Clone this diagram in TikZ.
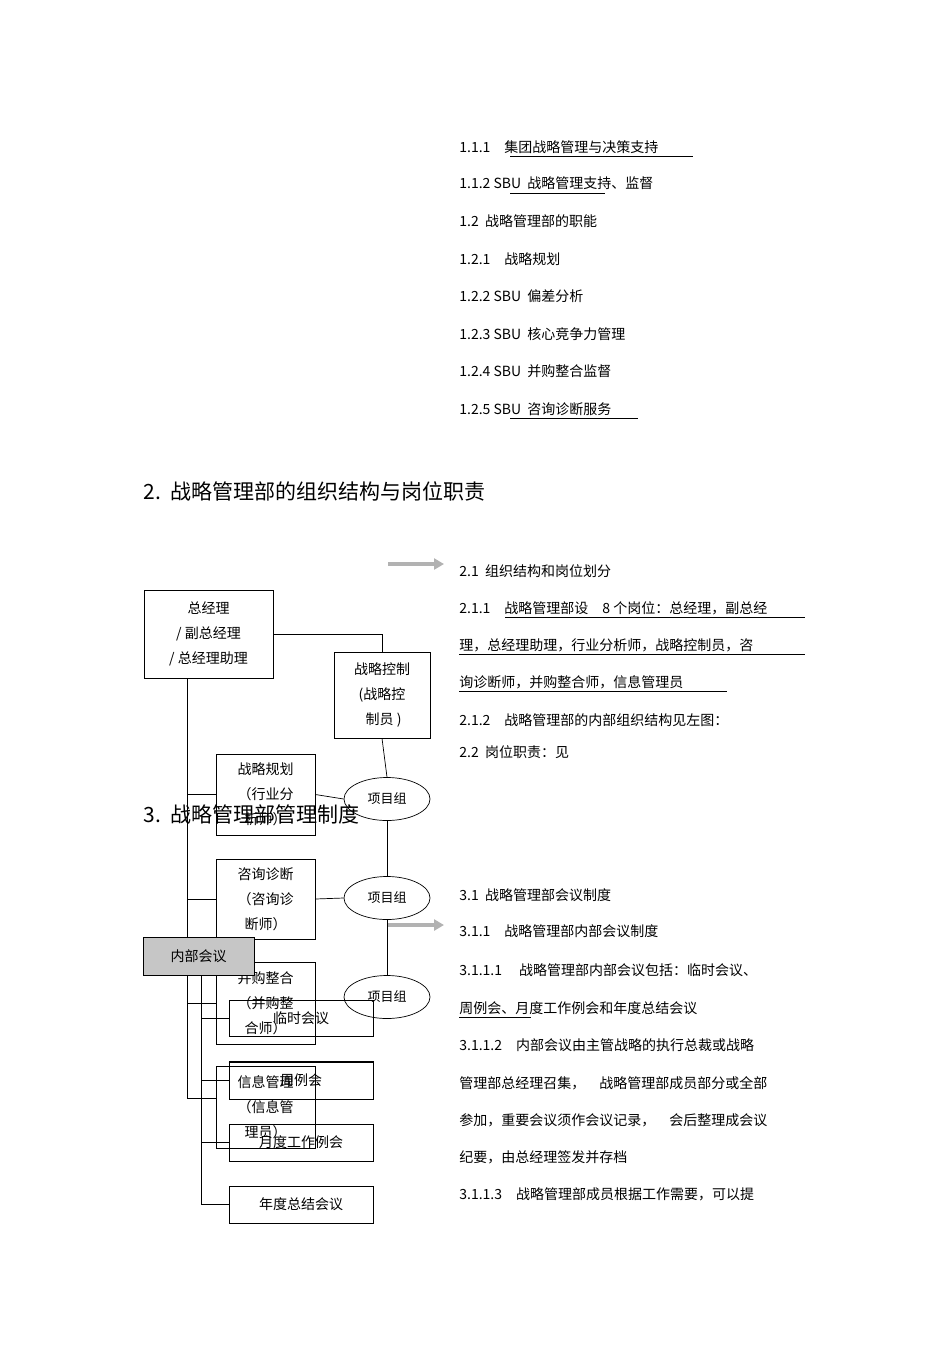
\documentclass[tikz,border=0pt]{standalone}
\usepackage{fontspec}
\setmainfont{Noto Sans CJK SC}
\usetikzlibrary{positioning, shapes, arrows.meta, calc}

\tikzset{
    txt/.style={anchor=west, inner sep=0, font=\fontsize{14}{14}\selectfont},
    head/.style={anchor=west, inner sep=0, font=\fontsize{21}{21}\selectfont},
    box/.style={draw, align=center, inner sep=0, font=\fontsize{14}{25}\selectfont},
    grp/.style={draw, ellipse, minimum width=86pt, minimum height=43pt,
        inner sep=0, font=\fontsize{13}{13}\selectfont},
    greyarrow/.style={draw=gray!60, line width=3.5pt, -{Triangle[length=10pt,width=11pt]}}
}

\begin{document}
\begin{tikzpicture}[x=1pt, y=-1pt, line width=0.7pt]
\useasboundingbox (0,0) rectangle (950,1346);

% right column text
\node[txt] (l1) at (459,147) {1.1.1\quad 集团战略管理与决策支持};
\node[txt] (l2) at (459,183) {1.1.2 SBU\ \ 战略管理支持、监督};
\node[txt] (l3) at (459,221) {1.2\ \ 战略管理部的职能};
\node[txt] (l4) at (459,259) {1.2.1\quad 战略规划};
\node[txt] (l5) at (459,296) {1.2.2 SBU\ \ 偏差分析};
\node[txt] (l6) at (459,334) {1.2.3 SBU\ \ 核心竞争力管理};
\node[txt] (l7) at (459,371) {1.2.4 SBU\ \ 并购整合监督};
\node[txt] (l8) at (459,409) {1.2.5 SBU\ \ 咨询诊断服务};
\draw (510,156) -- (693,156);
\draw (510,193) -- (605,193);
\draw (510,418) -- (638,418);

\node[head] (h2) at (143,491) {2.\ \ 战略管理部的组织结构与岗位职责};

\node[txt] (r1) at (459,571) {2.1\ \ 组织结构和岗位划分};
\node[txt] (r2) at (459,608) {2.1.1\quad 战略管理部设\quad 8 个岗位：总经理，副总经};
\node[txt] (r3) at (459,645) {理，总经理助理，行业分析师，战略控制员，咨};
\node[txt] (r4) at (459,682) {询诊断师，并购整合师，信息管理员};
\node[txt] (r5) at (459,720) {2.1.2\quad 战略管理部的内部组织结构见左图：};
\node[txt] (r6) at (459,752) {2.2\ \ 岗位职责：见};
\draw (505,617) -- (805,617);
\draw (459,654) -- (805,654);
\draw (459,691) -- (727,691);

\node[txt] (s1) at (459,895) {3.1\ \ 战略管理部会议制度};
\node[txt] (s2) at (459,931) {3.1.1\quad 战略管理部内部会议制度};
\node[txt] (s3) at (459,970) {3.1.1.1\quad\ 战略管理部内部会议包括：临时会议、};
\node[txt] (s4) at (459,1008) {周例会、月度工作例会和年度总结会议};
\node[txt] (s5) at (459,1045) {3.1.1.2\quad 内部会议由主管战略的执行总裁或战略};
\node[txt] (s6) at (459,1083) {管理部总经理召集，\quad 战略管理部成员部分或全部};
\node[txt] (s7) at (459,1120) {参加，重要会议须作会议记录，\quad 会后整理成会议};
\node[txt] (s8) at (459,1157) {纪要，由总经理签发并存档};
\node[txt] (s9) at (459,1194) {3.1.1.3\quad 战略管理部成员根据工作需要，可以提};
\draw (459,1017) -- (531,1017);

% organisation chart
\node[box, minimum width=129pt, minimum height=88pt] (gm) at (208.5,634)
    {总经理\\/ 副总经理\\/ 总经理助理};
\node[box, minimum width=96pt, minimum height=86pt] (ctrl) at (382,695)
    {战略控制\\(战略控\\\ 制员 )};
\node[box, minimum width=99pt, minimum height=81pt] (plan) at (265.5,794.5)
    {战略规划\\（行业分\\析师）};
\node[box, minimum width=99pt, minimum height=80pt] (diag) at (265.5,899)
    {咨询诊断\\（咨询诊\\断师）};
\node[box, minimum width=99pt, minimum height=82pt] (merge) at (265.5,1003)
    {并购整合\\（并购整\\合师）};
\node[box, minimum width=99pt, minimum height=82pt] (info) at (265.5,1107)
    {信息管理\\（信息管\\理员）};

\node[grp] (e1) at (387,799) {项目组};
\node[grp] (e2) at (387,898) {项目组};
\node[grp] (e3) at (387,997) {项目组};

\node[head] (h3) at (143,814) {3.\ \ 战略管理部管理制度};

\draw (gm.east) -| (ctrl.north);
\draw (ctrl.south) -- (e1.north);
\draw (e1.south) -- (e2.north);
\draw (e2.south) -- (e3.north);

\coordinate (t0) at (187,678);
\coordinate (t1) at (187,1098);
\draw (t0) -- (t1) -- (t1 -| info.west);
\draw (t0 |- plan) -- (plan.west);
\draw (t0 |- diag) -- (diag.west);
\draw (t0 |- merge) -- (merge.west);
\draw (plan.east) -- (e1.west);
\draw (diag.east) -- (e2.west);

\node[box, fill=gray!45, minimum width=111pt, minimum height=38pt] (meet) at (198.5,956) {内部会议};
\node[box, minimum width=144pt, minimum height=36pt] (m1) at (301,1018) {临时会议};
\node[box, minimum width=144pt, minimum height=38pt] (m2) at (301,1080) {周例会};
\node[box, minimum width=144pt, minimum height=37pt] (m3) at (301,1142.5) {月度工作例会};
\node[box, minimum width=144pt, minimum height=37pt] (m4) at (301,1204.5) {年度总结会议};
\draw ($(m2.north west)+(0,2)$) -- ($(m2.north east)+(0,2)$);

\coordinate (u0) at (201,975);
\coordinate (u1) at (201,1204.5);
\draw (u0) -- (u1) -- (m4.west);
\draw (u0 |- m1) -- (m1.west);
\draw (u0 |- m2) -- (m2.west);
\draw (u0 |- m3) -- (m3.west);

% grey arrows
\coordinate (a0) at (388,564);
\coordinate (a1) at (444,564);
\coordinate (b0) at (388,925);
\coordinate (b1) at (444,925);
\draw[greyarrow] (a0) -- (a1);
\draw[greyarrow] (b0) -- (b1);
\end{tikzpicture}
\end{document}
